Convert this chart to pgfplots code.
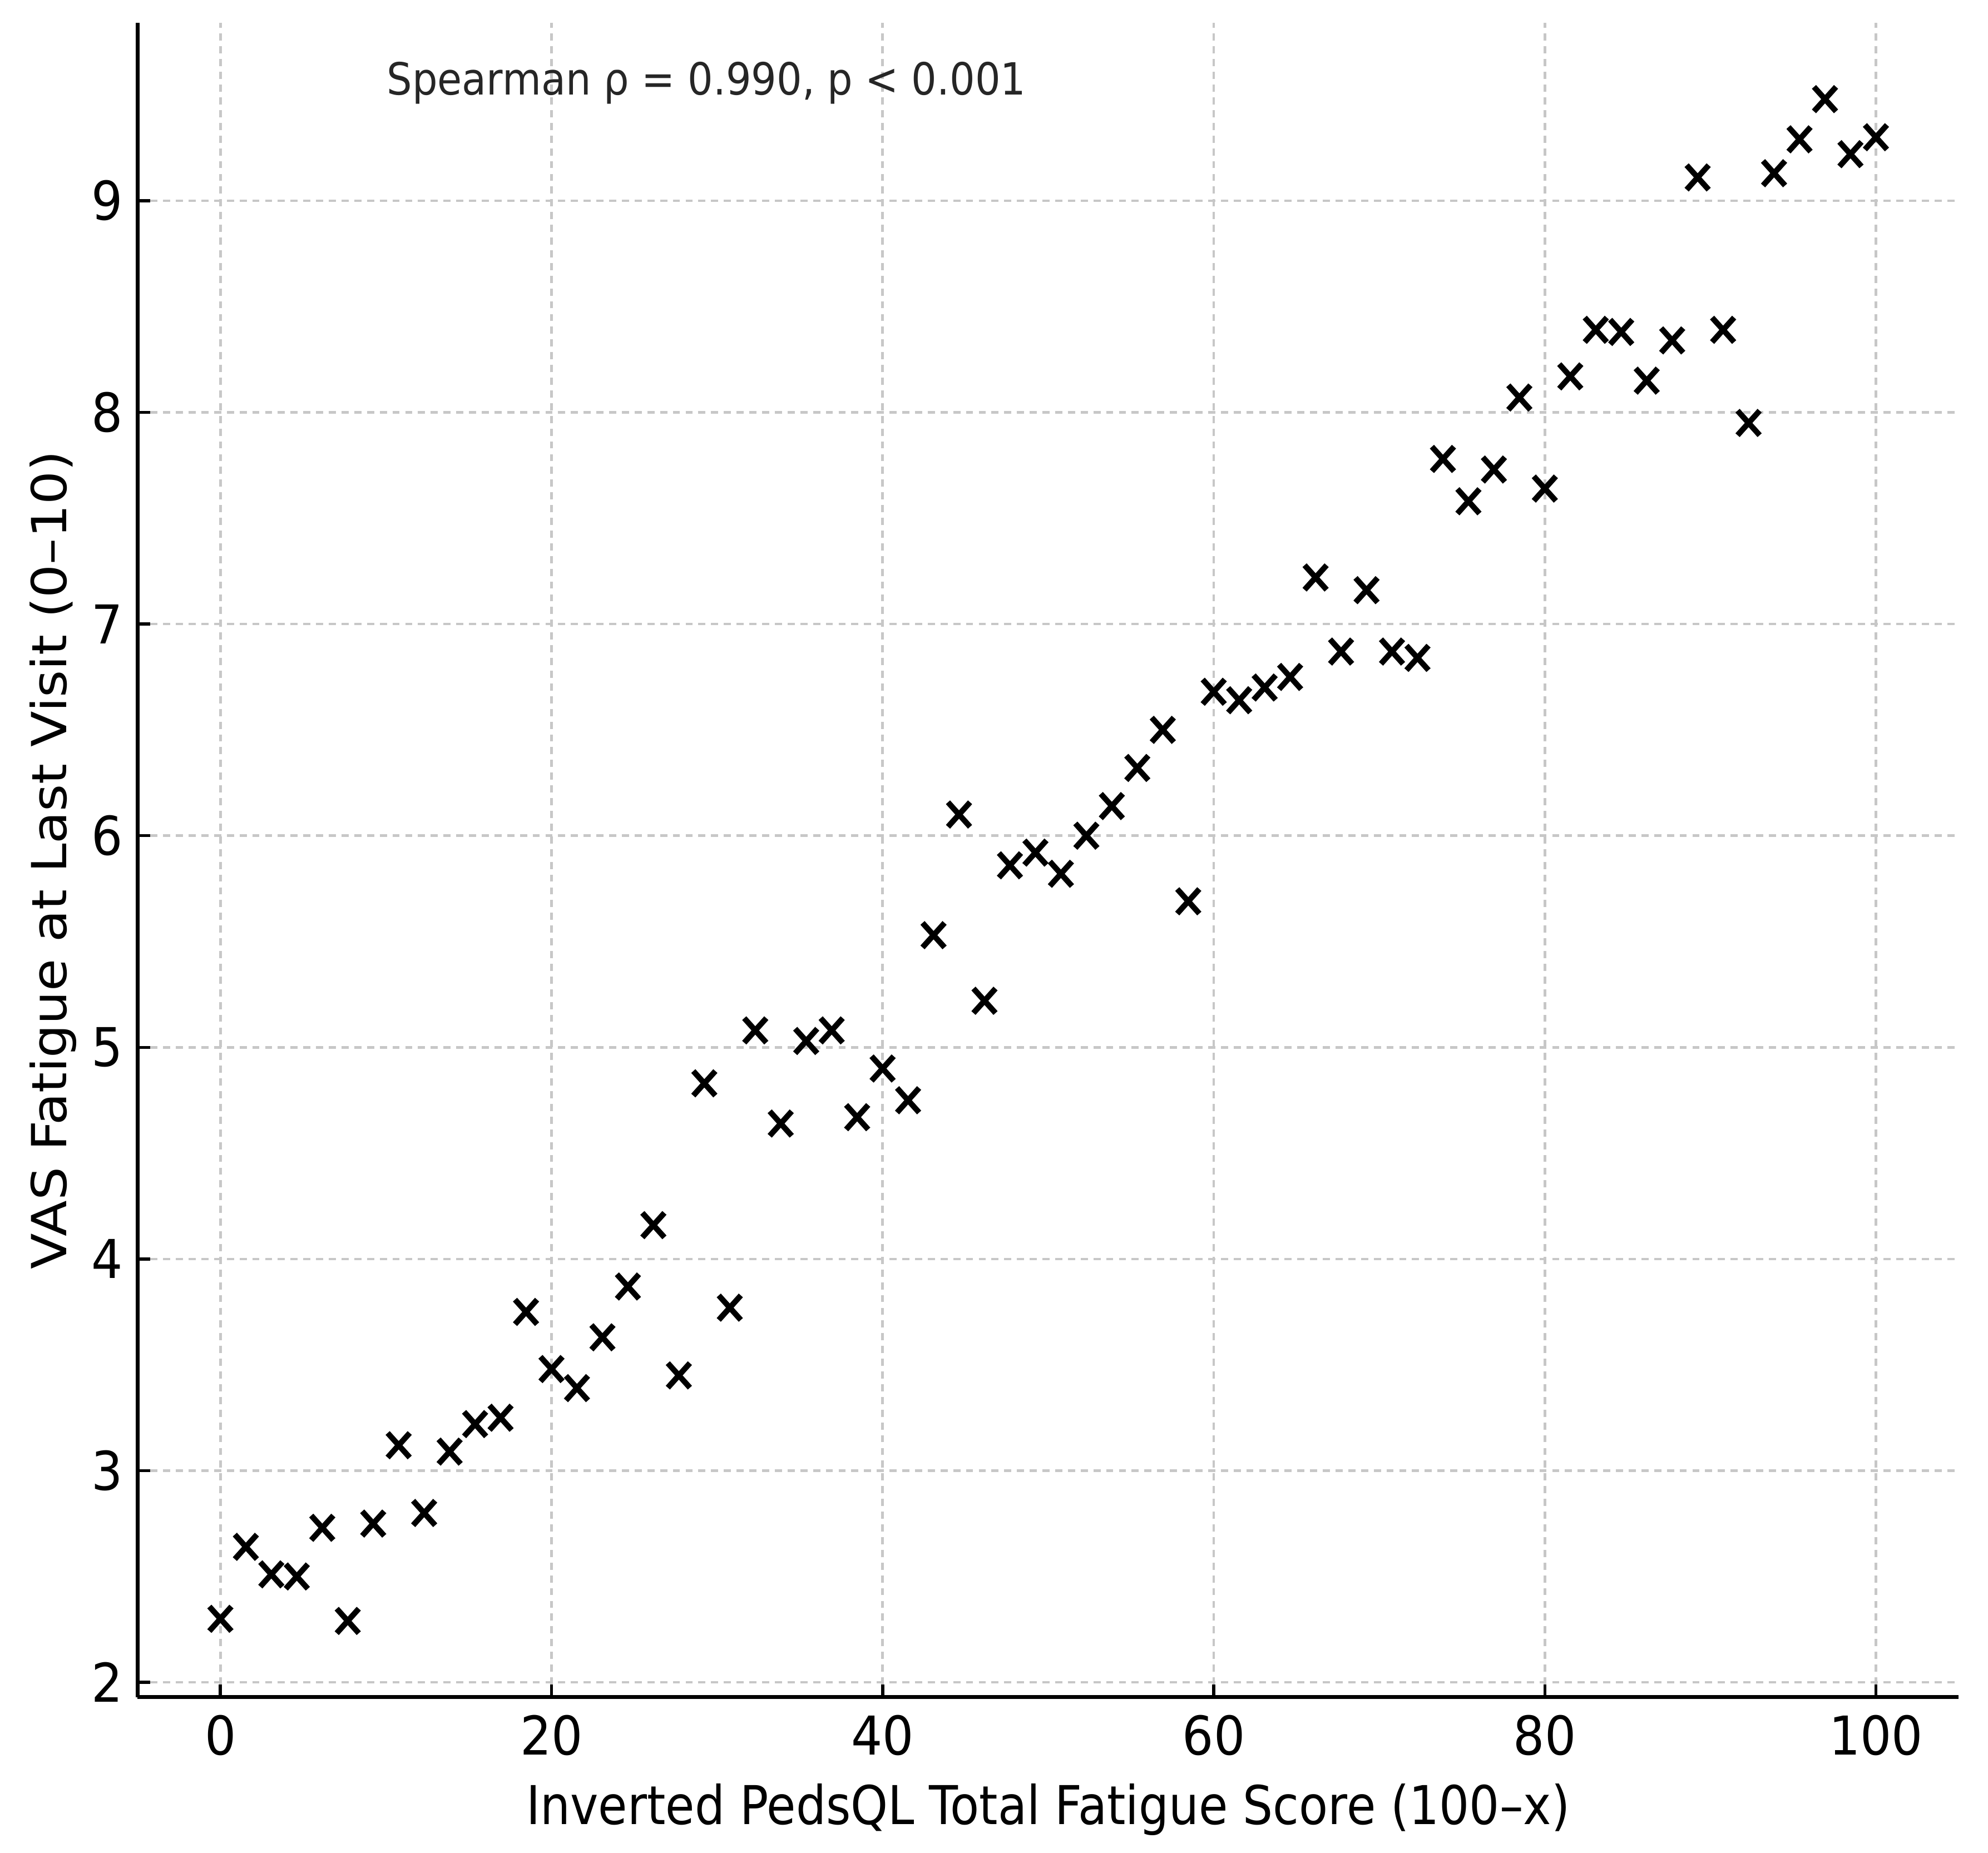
\documentclass[border=0pt]{standalone}
\usepackage{pgfplots}
\pgfplotsset{compat=1.18}
\usepackage{pgfplotstable}
\usepackage{fontspec}
\setmainfont{DejaVu Sans}
% the reference is squeezed a little across, so horizontal text is too
\newfontfamily\tickfont{DejaVu Sans}[FakeStretch=0.92]
\newfontfamily\labelfont{DejaVu Sans}[FakeStretch=0.885]
\newfontfamily\notefont{DejaVu Sans}[FakeStretch=0.9]

\pgfplotstableread{
x y
0.000 2.30
1.538 2.64
3.077 2.51
4.615 2.50
6.154 2.73
7.692 2.29
9.231 2.75
10.769 3.12
12.308 2.80
13.846 3.09
15.385 3.22
16.923 3.25
18.462 3.75
20.000 3.48
21.538 3.39
23.077 3.63
24.615 3.87
26.154 4.16
27.692 3.45
29.231 4.83
30.769 3.77
32.308 5.08
33.846 4.64
35.385 5.03
36.923 5.08
38.462 4.67
40.000 4.90
41.538 4.75
43.077 5.53
44.615 6.10
46.154 5.22
47.692 5.86
49.231 5.92
50.769 5.82
52.308 6.00
53.846 6.14
55.385 6.32
56.923 6.50
58.462 5.69
60.000 6.68
61.538 6.64
63.077 6.70
64.615 6.75
66.154 7.22
67.692 6.87
69.231 7.16
70.769 6.87
72.308 6.84
73.846 7.78
75.385 7.58
76.923 7.73
78.462 8.07
80.000 7.64
81.538 8.17
83.077 8.39
84.615 8.38
86.154 8.15
87.692 8.34
89.231 9.11
90.769 8.39
92.308 7.95
93.846 9.13
95.385 9.29
96.923 9.48
98.462 9.22
100.000 9.30
}\vasdata

\begin{document}
\begin{tikzpicture}
\begin{axis}[
    scale only axis,
    width=357.25pt, height=328.5pt,
    xmin=-5, xmax=105,
    ymin=1.93, ymax=9.84,
    xtick={0,20,...,100},
    ytick={2,...,9},
    axis lines*=left,
    axis line style={line width=0.7pt},
    tick align=inside,
    major tick length=2.5pt,
    tick style={black, line width=0.6pt},
    grid=major,
    grid style={dash pattern=on 1.4pt off 1.1pt, line width=0.5pt, color=black!22},
    /pgf/number format/assume math mode=true,
    ticklabel style={font=\tickfont\fontsize{10.5}{12}\selectfont},
    yticklabel style={xshift=0.6pt},
    xlabel={Inverted PedsQL Total Fatigue Score (100–x)},
    ylabel={VAS Fatigue at Last Visit (0–10)},
    xlabel style={font=\labelfont\fontsize{10.5}{12}\selectfont,
        at={(axis description cs:0.5,-0.0761)}, anchor=base},
    ylabel style={font=\fontsize{10.3}{12}\selectfont, yscale=0.92,
        at={(axis description cs:-0.0392,0.5)}, anchor=base},
    clip=false,
]
\addplot[only marks, mark=x, mark size=3.4pt, black, line width=1.1pt,
    mark options={xscale=0.9}] table[x=x, y=y] {\vasdata};
\node[anchor=base west, inner sep=0pt, font=\notefont\fontsize{8.7}{10}\selectfont, text=black!85]
    at (axis cs:10,9.5) {Spearman ρ = 0.990, p < 0.001};
\end{axis}
\path ([xshift=-27pt,yshift=-30pt]current axis.south west) rectangle ([xshift=5.75pt,yshift=4.5pt]current axis.north east);
\end{tikzpicture}
\end{document}
